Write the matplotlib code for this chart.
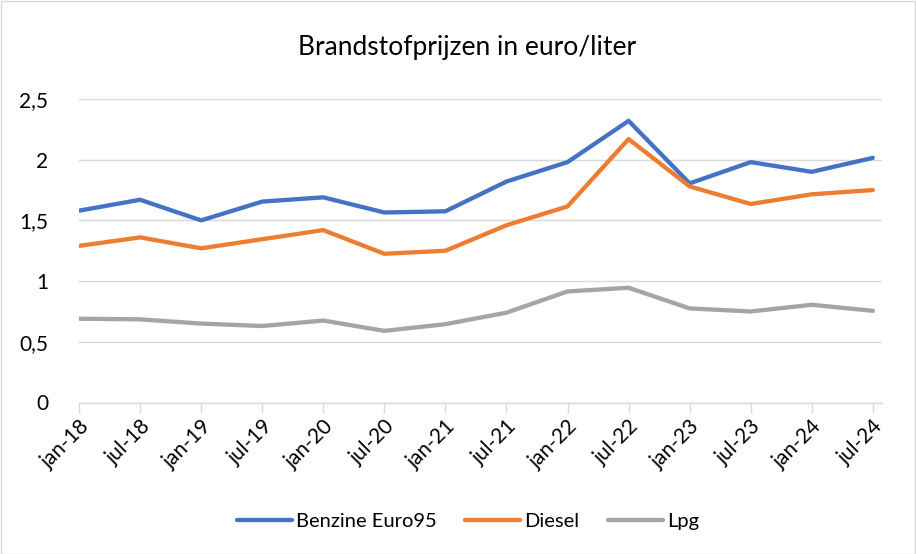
import matplotlib.pyplot as plt
from matplotlib.patches import Rectangle
from matplotlib.ticker import FuncFormatter
from matplotlib.transforms import ScaledTranslation

plt.rcParams['font.family'] = ['Lato', 'DejaVu Sans']

maanden = ['jan-18', 'jul-18', 'jan-19', 'jul-19', 'jan-20', 'jul-20', 'jan-21',
           'jul-21', 'jan-22', 'jul-22', 'jan-23', 'jul-23', 'jan-24', 'jul-24']
benzine = [1.58, 1.67, 1.50, 1.655, 1.69, 1.565, 1.575, 1.82, 1.98, 2.32, 1.805, 1.98, 1.90, 2.015]
diesel = [1.29, 1.36, 1.27, 1.345, 1.42, 1.225, 1.25, 1.46, 1.615, 2.17, 1.78, 1.635, 1.715, 1.75]
lpg = [0.69, 0.685, 0.65, 0.63, 0.675, 0.59, 0.645, 0.74, 0.915, 0.945, 0.775, 0.75, 0.805, 0.755]

fig = plt.figure(figsize=(9.16, 5.54), dpi=100)
ax = fig.add_axes([79 / 916, 1 - 402.5 / 554, (882 - 79) / 916, (402.5 - 99) / 554])

# rand om de hele grafiek
fig.patches.append(Rectangle((0.5 / 916, 0.5 / 554), 1 - 1.5 / 916, 1 - 1.5 / 554,
                             transform=fig.transFigure, fill=False,
                             edgecolor='#D9D9D9', linewidth=1))

x = list(range(len(maanden)))
ax.plot(x, benzine, color='#4472C4', lw=3.1, solid_capstyle='round', solid_joinstyle='round',
        label='Benzine Euro95')
ax.plot(x, diesel, color='#ED7D31', lw=3.1, solid_capstyle='round', solid_joinstyle='round',
        label='Diesel')
ax.plot(x, lpg, color='#A5A5A5', lw=3.1, solid_capstyle='round', solid_joinstyle='round',
        label='Lpg')

ax.set_xlim(0, 13.15)
ax.set_ylim(0, 2.5)
ax.set_yticks([0, 0.5, 1, 1.5, 2, 2.5])
ax.yaxis.set_major_formatter(FuncFormatter(lambda v, p: ('%g' % v).replace('.', ',')))
ax.grid(axis='y', color='#D9D9D9', lw=1)
ax.set_axisbelow(True)

ax.set_xticks(x)
ax.set_xticklabels(maanden, rotation=45, ha='right', rotation_mode='anchor')
# labels iets naar rechts schuiven zoals in Excel
shift = ScaledTranslation(8 / 100, 0, fig.dpi_scale_trans)
for lbl in ax.get_xticklabels():
    lbl.set_transform(lbl.get_transform() + shift)

for s in ['top', 'right', 'left']:
    ax.spines[s].set_visible(False)
ax.spines['bottom'].set_color('#D9D9D9')
ax.spines['bottom'].set_linewidth(1)
ax.tick_params(axis='x', colors='#D9D9D9', length=7, width=1, pad=3, labelcolor='#000000',
               labelsize=15)
ax.tick_params(axis='y', length=0, pad=22, labelsize=15, labelcolor='#000000')

fig.text(467 / 916, 1 - 48 / 554, 'Brandstofprijzen in euro/liter', fontsize=19,
         ha='center', va='center')

fig.legend(loc='center', bbox_to_anchor=(468 / 916, 1 - 521 / 554), ncol=3, frameon=False,
           fontsize=14.5, handlelength=2.75, handletextpad=0.2, columnspacing=1.4)

fig.savefig('out.png', dpi=100)
